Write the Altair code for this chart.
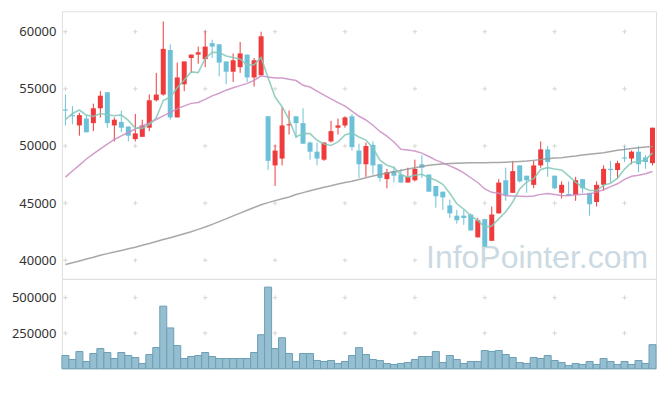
import altair as alt
import pandas as pd

dates = [
    "23-07-05", "23-07-06", "23-07-07", "23-07-10", "23-07-11", "23-07-12", "23-07-13", "23-07-14",
    "23-07-17", "23-07-18", "23-07-19", "23-07-20", "23-07-21", "23-07-24", "23-07-25", "23-07-26",
    "23-07-27", "23-07-28", "23-07-31",
    "23-08-01", "23-08-02", "23-08-03", "23-08-04", "23-08-07", "23-08-08", "23-08-09", "23-08-10",
    "23-08-11", "23-08-14", "23-08-16", "23-08-17", "23-08-18", "23-08-21", "23-08-22", "23-08-23",
    "23-08-24", "23-08-25", "23-08-28", "23-08-29", "23-08-30", "23-08-31",
    "23-09-01", "23-09-04", "23-09-05", "23-09-06", "23-09-07", "23-09-08", "23-09-11", "23-09-12",
    "23-09-13", "23-09-14", "23-09-15", "23-09-18", "23-09-19", "23-09-20", "23-09-21", "23-09-22",
    "23-09-25", "23-09-26", "23-09-27",
    "23-10-04", "23-10-05", "23-10-06", "23-10-10", "23-10-11", "23-10-12", "23-10-13", "23-10-16",
    "23-10-17", "23-10-18", "23-10-19", "23-10-20", "23-10-23", "23-10-24", "23-10-25", "23-10-26",
    "23-10-27", "23-10-30", "23-10-31",
    "23-11-01", "23-11-02", "23-11-03", "23-11-06", "23-11-07", "23-11-08",
]

opens = [53200, 52700, 51800, 52400, 52000, 53300, 54700, 51800, 52100, 51700,
         50600, 50800, 51600, 54000, 54500, 58400, 52500, 55400, 57700, 58000,
         57600, 59000, 58900, 57400, 56500, 56900, 58000, 56000, 56200, 52600,
         48300, 48900, 51800, 52600, 52000, 50300, 49500, 48800, 50400, 51600,
         51800, 52600, 49600, 48400, 50100, 48400, 47100, 47800, 47500, 46800,
         47000, 48400, 47500, 46500, 46000, 44800, 43900, 43900, 44000, 42000,
         43600, 41700, 44100, 47000, 45900, 48300, 47400, 46600, 48300, 49700,
         47400, 45900, 45800, 45700, 47100, 45900, 45100, 46600, 48000, 47900,
         49000, 48900, 49500, 49000, 48500]
highs = [54500, 53500, 52900, 52700, 53700, 54800, 54700, 52500, 53100, 51700,
         52800, 52300, 54500, 56400, 60900, 58900, 57300, 57400, 58000, 58700,
         60100, 59300, 58900, 57400, 58100, 59100, 58000, 57700, 60000, 52600,
         50100, 53400, 53100, 52600, 53300, 50400, 50300, 50300, 52200, 52400,
         52600, 52800, 50200, 50300, 50400, 48400, 48000, 48200, 48000, 48100,
         48800, 49200, 47500, 46500, 46000, 45300, 44400, 44400, 44100, 43700,
         43600, 44700, 47100, 48100, 48700, 48300, 47400, 48700, 50400, 50000,
         47400, 46900, 46900, 47300, 47100, 45900, 46900, 48300, 48700, 48700,
         50000, 49600, 50000, 49200, 51600]
lows = [51800, 51900, 50900, 51200, 51300, 52500, 51600, 50400, 51200, 50400,
        50400, 50800, 51300, 53900, 54400, 52300, 52500, 54800, 56400, 57200,
        56900, 57700, 56100, 55400, 55600, 56400, 55600, 55200, 56100, 47900,
        46500, 48300, 51000, 50700, 50200, 48800, 48300, 48700, 50300, 51000,
        51600, 49600, 47200, 47300, 47500, 46900, 46300, 46800, 46800, 46800,
        46900, 47200, 46000, 44600, 44400, 43700, 43200, 43100, 42600, 42000,
        41200, 41700, 44100, 45200, 45900, 46800, 45900, 46300, 48100, 47300,
        46200, 45400, 45700, 45200, 45900, 43900, 44700, 46100, 46800, 47100,
        48600, 48400, 47700, 48000, 48300]
closes = [53100, 52600, 52700, 51200, 53300, 54400, 52000, 52300, 51600, 50900,
          51100, 51800, 54000, 54500, 58500, 52500, 56000, 57400, 58000, 58200,
          58700, 58700, 57300, 56500, 57500, 58100, 56000, 57500, 59600, 48700,
          49600, 51800, 51900, 52000, 50200, 49500, 48900, 50300, 51300, 51800,
          52500, 49900, 48400, 50000, 48300, 47200, 47700, 47400, 46800, 47300,
          48000, 48100, 46000, 45600, 45500, 44100, 43500, 43700, 42600, 43500,
          41200, 44000, 46800, 45700, 47800, 46900, 47000, 48300, 49700, 48600,
          46300, 46600, 45700, 47000, 46300, 44900, 46600, 48000, 47900, 48500,
          48900, 49500, 48400, 48600, 51600]
volumes = [93000, 65000, 121000, 51000, 107000, 142000, 114000, 72000, 114000, 93000,
           79000, 37000, 100000, 149000, 440000, 287000, 163000, 72000, 86000, 93000,
           114000, 86000, 72000, 72000, 72000, 72000, 72000, 114000, 239000, 574000,
           142000, 218000, 107000, 51000, 107000, 107000, 58000, 51000, 58000, 37000,
           51000, 93000, 148000, 100000, 65000, 58000, 37000, 30000, 37000, 44000,
           65000, 86000, 86000, 121000, 44000, 93000, 65000, 37000, 51000, 51000,
           128000, 121000, 128000, 100000, 79000, 44000, 37000, 79000, 72000, 93000,
           58000, 44000, 23000, 37000, 30000, 51000, 30000, 72000, 51000, 30000,
           51000, 30000, 58000, 37000, 169000]

ma5_head = [52300, 52850, 53150, 52700]
ma20_head = [47280, 47810, 48330, 48860, 49300, 49740, 50170, 50570, 50880, 51180,
             51490, 51750, 52020, 52320, 52630, 52940, 53250, 53510, 53730]
ma60 = [39630, 39780, 39940, 40100, 40260, 40440, 40580, 40720, 40860, 41000,
        41140, 41310, 41470, 41640, 41810, 41970, 42140, 42320, 42500, 42700,
        42910, 43140, 43380, 43620, 43880, 44120, 44370, 44620, 44860, 45040,
        45220, 45380, 45540, 45750, 45920, 46080, 46230, 46380, 46520, 46680,
        46800, 46910, 47060, 47220, 47370, 47500, 47630, 47740, 47850, 47980,
        48100, 48200, 48310, 48380, 48420, 48460, 48480, 48510, 48530, 48540,
        48540, 48550, 48560, 48580, 48610, 48650, 48680, 48740, 48810, 48890,
        48950, 48980, 49050, 49120, 49210, 49280, 49340, 49410, 49520, 49620,
        49690, 49770, 49840, 49910, 49960]

tick_dates = dates[::10]
price_ticks = [40000, 45000, 50000, 55000, 60000]
vol_ticks = [250000, 500000]

cs = pd.Series(closes, dtype=float)
ma5 = cs.rolling(5).mean().tolist()
ma5[:4] = ma5_head
ma20 = cs.rolling(20).mean().tolist()
ma20[:19] = ma20_head

df = pd.DataFrame({
    "date": dates, "open": opens, "high": highs, "low": lows, "close": closes,
    "volume": volumes, "ma5": ma5, "ma20": ma20, "ma60": ma60,
})

FONT = "Noto Sans"
RED = "#ef3b3b"
BLUE = "#6cc1d9"
updown = alt.condition("datum.close >= datum.open", alt.value(RED), alt.value(BLUE))

xscale = alt.Scale(type="band", domain=dates, paddingInner=0, paddingOuter=0)
x_none = alt.X("date:N", scale=xscale, axis=None)
x_axis = alt.X("date:N", scale=xscale, title=None,
               axis=alt.Axis(values=tick_dates, labelAngle=0, ticks=False, domain=False,
                             grid=False, labelPadding=3, labelFont=FONT, labelFontSize=13,
                             labelColor="#333333", labelOverlap=False))

pscale = alt.Scale(domain=[38370, 61790], zero=False, nice=False)
paxis = alt.Axis(values=price_ticks, format="d", ticks=False, domain=False, grid=False,
                 labelPadding=6, labelFont=FONT, labelFontSize=13, labelColor="#333333")
vscale = alt.Scale(domain=[0, 632000], nice=False)
vaxis = alt.Axis(values=vol_ticks, format="d", ticks=False, domain=False, grid=False,
                 labelPadding=6, labelFont=FONT, labelFontSize=13, labelColor="#333333")

cross_shape = "M-1,0L1,0M0,-1L0,1"
cp = pd.DataFrame([(d, v) for d in tick_dates for v in price_ticks], columns=["date", "v"])
cv = pd.DataFrame([(d, v) for d in tick_dates for v in vol_ticks], columns=["date", "v"])

crosses_p = alt.Chart(cp).mark_point(shape=cross_shape, size=20, filled=False,
                                     stroke="#d6d6d6", strokeWidth=1, opacity=1).encode(
    x=x_none, y=alt.Y("v:Q", scale=pscale, axis=paxis, title=None))

wm = alt.Chart(pd.DataFrame({"t": ["InfoPointer.com"]})).mark_text(
    align="right", baseline="alphabetic", font="Liberation Sans", fontSize=32,
    color="#cbdae2").encode(x=alt.value(587), y=alt.value(257), text="t:N")

base = alt.Chart(df)
wicks = base.mark_rule(strokeWidth=1).encode(
    x=x_none, y=alt.Y("low:Q", scale=pscale, axis=paxis, title=None), y2="high:Q", color=updown)
bodies = base.mark_bar(size=5).encode(
    x=x_none, y=alt.Y("open:Q", scale=pscale, axis=paxis, title=None), y2="close:Q", color=updown)

def ma_line(field, color, width):
    return base.mark_line(color=color, strokeWidth=width, opacity=0.85).encode(
        x=x_none, y=alt.Y(f"{field}:Q", scale=pscale, axis=paxis, title=None))

top = alt.layer(
    crosses_p, wm, wicks, bodies,
    ma_line("ma60", "#999999", 1.5),
    ma_line("ma20", "#c98cc3", 1.5),
    ma_line("ma5", "#84c8b9", 1.6),
).properties(width=595, height=268)

crosses_v = alt.Chart(cv).mark_point(shape=cross_shape, size=20, filled=False,
                                     stroke="#d6d6d6", strokeWidth=1, opacity=1).encode(
    x=x_none, y=alt.Y("v:Q", scale=vscale, axis=vaxis, title=None))
vbars = base.mark_bar(fill="#95bfd1", stroke="#6c9fb5", strokeWidth=1).encode(
    x=x_axis, y=alt.Y("volume:Q", scale=vscale, axis=vaxis, title=None))

bottom = alt.layer(crosses_v, vbars).properties(width=595, height=90)

chart = alt.vconcat(top, bottom, spacing=0, bounds="flush").properties(
    padding={"left": 2, "top": 2, "right": 0, "bottom": 2},
    background="white",
).configure_view(stroke="#e0e0e0")

chart.save("out.html", embed_options={"renderer": "svg", "actions": False})
